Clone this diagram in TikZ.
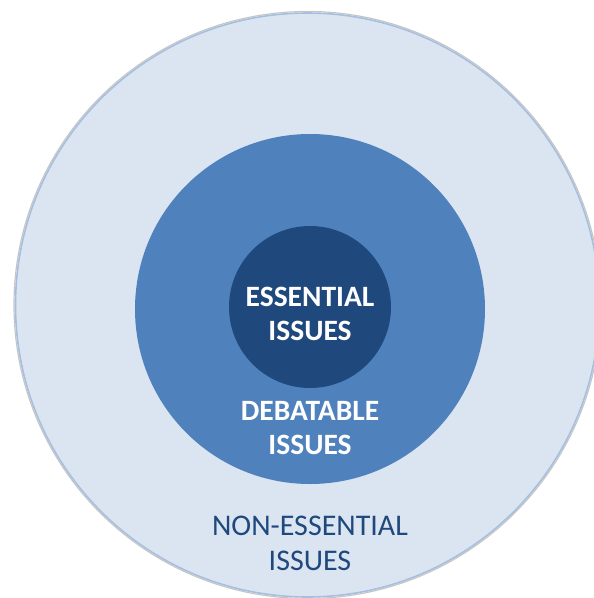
\documentclass[tikz,border=0pt]{standalone}
\usepackage{fontspec}
\setmainfont{Carlito}
\definecolor{paleblue}{HTML}{DBE5F1}
\definecolor{rimblue}{HTML}{A7BFDE}
\definecolor{midblue}{HTML}{4F81BD}
\definecolor{deepblue}{HTML}{1F497D}
\tikzset{
  ringlabel/.style={align=center,font=\fontsize{29.5}{34}\selectfont\bfseries,text=white},
}
\begin{document}
\begin{tikzpicture}[x=1pt,y=-1pt]
      \useasboundingbox (0,0) rectangle (594,598);
      \clip (0,0) rectangle (594,598);
      \draw[gray!45,line width=1.2pt] (307.5,305) circle (293.5);
      \draw[rimblue,fill=paleblue,line width=1.6pt] (307.5,305) circle (292);
      \fill[midblue] (310,309) circle (175);
      \fill[deepblue] (310,307) circle (81);
      \node[ringlabel] (essential) at (310,314){ESSENTIAL\\ISSUES};
      \node[ringlabel] (debatable) at (310,428){DEBATABLE\\ISSUES};
      \node[ringlabel,font=\fontsize{30}{35}\selectfont,text=deepblue] (nonessential) at (310,543){NON-ESSENTIAL\\ISSUES};
    \end{tikzpicture}
\end{document}
